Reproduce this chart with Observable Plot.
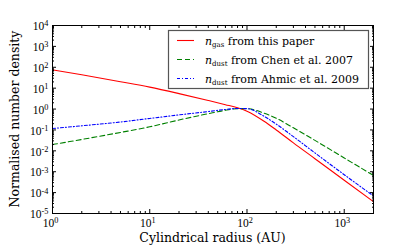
<!DOCTYPE html>
<html><head><meta charset="utf-8">
<script src="https://cdn.jsdelivr.net/npm/d3@7"></script>
<script src="https://cdn.jsdelivr.net/npm/@observablehq/plot@0.6"></script>
<style>html,body{margin:0;padding:0;background:#fff;}</style>
</head><body><div id="chart"></div>
<script>
// ---- data ----
const radiusAU = [1, 2, 5, 10, 20, 40, 60, 80, 100, 150, 200, 300, 500, 1000, 2000];
const nGas = [75, 43.6, 20.4, 11.2, 5.5, 2.57, 1.62, 1.15, 0.79, 0.26, 0.10, 0.024, 0.0042, 3.9e-4, 3.7e-5];
const nDustChen = [0.02, 0.035, 0.076, 0.141, 0.30, 0.60, 0.87, 1.05, 1.05, 0.63, 0.363, 0.126, 0.0316, 0.00457, 6.6e-4];
const nDustAhmic = [0.117, 0.158, 0.24, 0.355, 0.525, 0.76, 0.955, 1.07, 1.05, 0.447, 0.19, 0.0479, 0.00794, 7.2e-4, 6.9e-5];
const seriesKeys = ["gas", "chen", "ahmic"];
const legendSub = ["gas", "dust", "dust"];
const legendText = [" from this paper", " from Chen et al. 2007", " from Ahmic et al. 2009"];
const xMajor = [1, 10, 100, 1000];
const yMajor = [1e-5, 1e-4, 1e-3, 1e-2, 1e-1, 1, 10, 100, 1000, 10000];
const xLabel = "Cylindrical radius (AU)";
const yLabel = "Normalised number density";

// ---- build table ----
const seriesValues = {gas: nGas, chen: nDustChen, ahmic: nDustAhmic};
const rows = [];
for (const k of seriesKeys) radiusAU.forEach((r, i) => rows.push({series: k, r, n: seriesValues[k][i]}));
const minorOf = (lo, hi) => { const out = []; for (let e = lo; e <= hi; e++) for (let m = 2; m <= 9; m++) out.push(m * 10 ** e); return out; };
const xMinor = minorOf(0, 3).filter(v => v <= 2000);
const yMinor = minorOf(-5, 3);

const styles = {
  gas:   {stroke: "#ff0000", dash: null},
  chen:  {stroke: "#008000", dash: "5,3"},
  ahmic: {stroke: "#0000ff", dash: "3,2,1,2"}
};
const expFmt = d => "10^" + Math.round(Math.log10(d));

const W = 415, H = 252, mL = 52, mR = 42, mT = 25, mB = 39;
const tickOpts = (anchor, size) => ({anchor, tickSize: size, fill: "none", label: null, stroke: "#000"});

const chart = Plot.plot({
  width: W, height: H,
  marginLeft: mL, marginRight: mR, marginTop: mT, marginBottom: mB,
  x: {type: "log", domain: [1, 2000]},
  y: {type: "log", domain: [1e-5, 1e4]},
  style: {fontFamily: "DejaVu Serif", background: "#fff", color: "#000"},
  marks: [
    ...seriesKeys.map(k => Plot.line(rows.filter(d => d.series === k), {
      x: "r", y: "n", stroke: styles[k].stroke, strokeWidth: 1.1,
      strokeDasharray: styles[k].dash, curve: "monotone-x"
    })),
    Plot.axisX(xMajor, tickOpts("bottom", -4)),
    Plot.axisX(xMajor, tickOpts("top", -4)),
    Plot.axisX(xMinor, tickOpts("bottom", -2)),
    Plot.axisX(xMinor, tickOpts("top", -2)),
    Plot.axisY(yMajor, tickOpts("left", -4)),
    Plot.axisY(yMajor, tickOpts("right", -4)),
    Plot.axisY(yMinor, tickOpts("left", -2)),
    Plot.axisY(yMinor, tickOpts("right", -2)),
    Plot.axisX(xMajor, {anchor: "bottom", tickSize: 0, tickPadding: 5, tickFormat: expFmt, label: null,
      fontSize: 11.5, fontFamily: "Liberation Serif", dx: -2}),
    Plot.axisY(yMajor, {anchor: "left", tickSize: 0, tickPadding: 4, tickFormat: expFmt, label: null,
      fontSize: 11.5, fontFamily: "Liberation Serif", dy: 1}),
    Plot.frame({stroke: "#000", strokeWidth: 1})
  ]
});
document.getElementById("chart").appendChild(chart);

const svg = d3.select(chart);
// superscript exponents in tick labels
svg.selectAll('g[aria-label="x-axis tick label"] text, g[aria-label="y-axis tick label"] text').each(function () {
  const t = d3.select(this);
  const [base, ex] = this.textContent.split("^");
  t.text(null);
  t.append("tspan").text(base);
  t.append("tspan").attr("dy", "-0.45em").attr("font-size", "0.72em").text(ex);
});

// axis titles
svg.append("text").attr("x", mL + (W - mL - mR) / 2).attr("y", 242)
  .attr("text-anchor", "middle").attr("font-size", 12.5).attr("fill", "#000").text(xLabel);
svg.append("text").attr("transform", `translate(19,${mT + (H - mT - mB) / 2}) rotate(-90)`)
  .attr("text-anchor", "middle").attr("font-size", 12.5).attr("fill", "#000").text(yLabel);

// legend
const lg = svg.append("g").attr("text-anchor", "start");
lg.append("rect").attr("x", 168.5).attr("y", 30.5).attr("width", 200).attr("height", 58)
  .attr("fill", "#fff").attr("stroke", "#555").attr("stroke-width", 1.2);
seriesKeys.forEach((k, i) => {
  const y = 40.5 + i * 19;
  lg.append("line").attr("x1", 177).attr("x2", 194).attr("y1", y).attr("y2", y)
    .attr("stroke", styles[k].stroke).attr("stroke-width", 1.1)
    .attr("stroke-dasharray", styles[k].dash);
  const t = lg.append("text").attr("x", 205).attr("y", y + 4).attr("text-anchor", "start")
    .attr("font-size", 11).attr("fill", "#000");
  t.append("tspan").attr("font-style", "italic").text("n");
  t.append("tspan").attr("font-size", 7).attr("dy", 2).text(legendSub[i]);
  t.append("tspan").attr("dy", -2).text(legendText[i]);
});
</script>
</body></html>
